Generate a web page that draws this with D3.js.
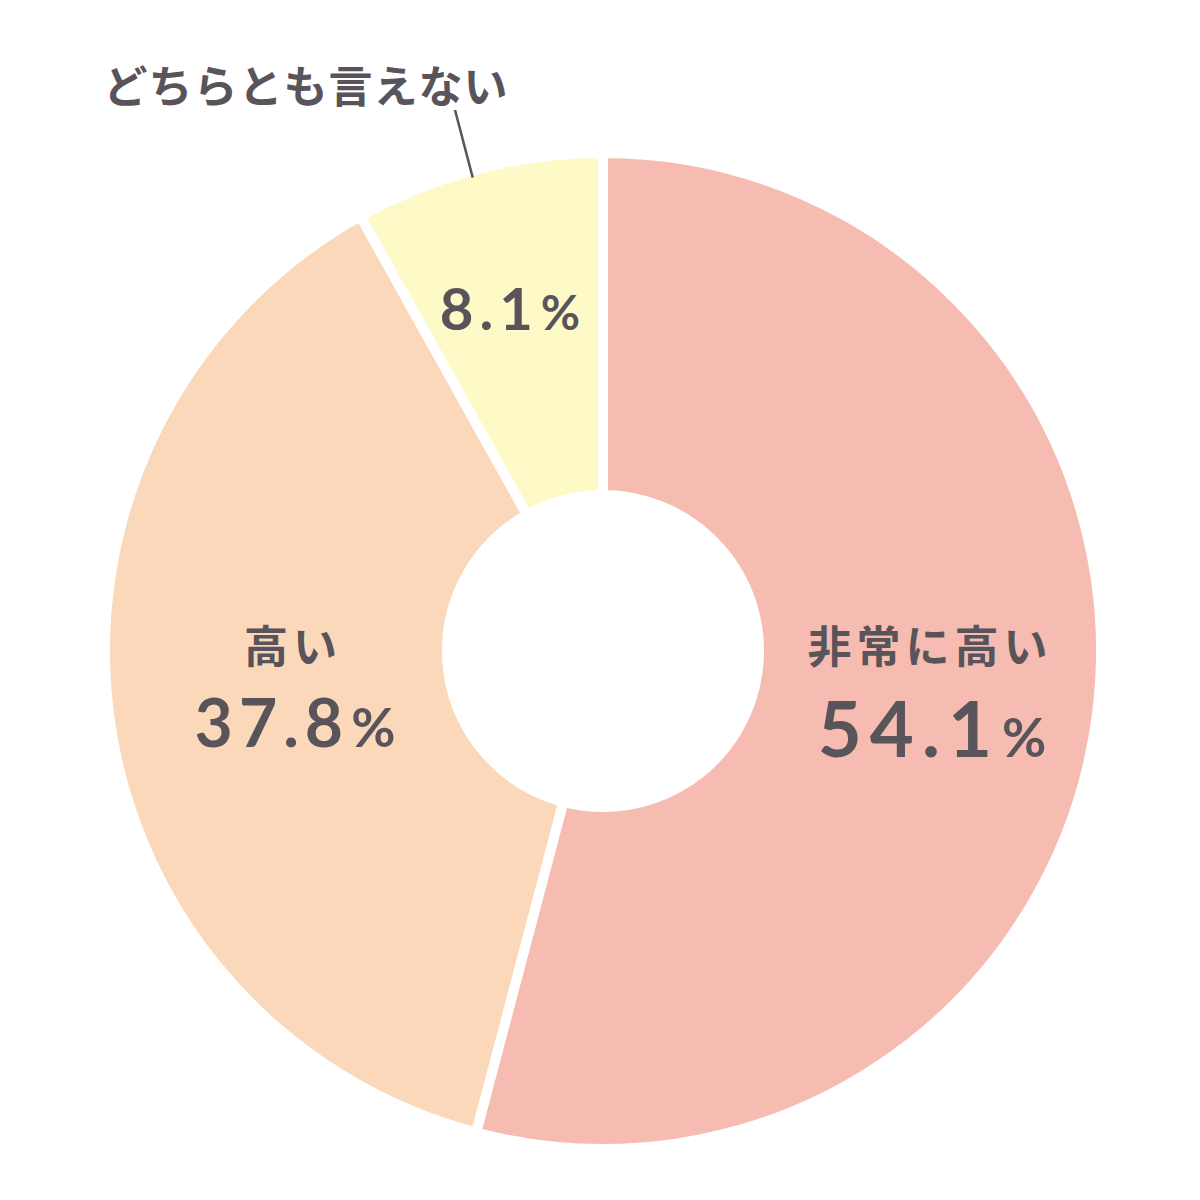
<!DOCTYPE html>
<html>
<head>
<meta charset="utf-8">
<script src="https://cdn.jsdelivr.net/npm/d3@7"></script>
<style>
  body { margin: 0; background: #fff; }
  text { font-family: "Noto Sans CJK JP", "Noto Sans", sans-serif; font-weight: 700; fill: #58545a; }
  text.num { font-family: Lato, "Open Sans", sans-serif; font-weight: 700; }
</style>
</head>
<body>
<div id="chart"></div>
<script>
var labels = ["非常に高い", "高い", "どちらとも言えない"];
var values = [54.1, 37.8, 8.1];
var colors = ["#f6bcb1", "#fad8b9", "#fefac7"];

var width = 1200, height = 1200;
var cx = 603, cy = 651;

var svg = d3.select("#chart").append("svg")
  .attr("width", width)
  .attr("height", height);

var g = svg.append("g").attr("transform", "translate(" + cx + "," + cy + ")");

var pie = d3.pie().sort(null).value(function(d){ return d; });
var arcs = pie(values);

var arc = d3.arc().innerRadius(156).outerRadius(498);

g.selectAll(".slice")
  .data(arcs)
  .enter().append("path")
  .attr("class", "slice")
  .attr("d", arc)
  .style("fill", function(d, i){ return colors[i]; })
  .style("stroke", "#fff")
  .style("stroke-width", 10);

// label spots, picked by eye
var namePos = [[327, 12], [-310, 12]];
var valPos = [[333, 106], [-305, 96], [-90, -321]];
var valSize = [[76, 54], [66, 54], [58, 48]];

function pctText(sel, v, big, small) {
  sel.append("tspan").text(v.toFixed(1)).style("font-size", big + "px");
  sel.append("tspan").text("%").style("font-size", small + "px").attr("dx", 2);
}

[0, 1].forEach(function(i){
  g.append("text").attr("x", namePos[i][0]).attr("y", namePos[i][1])
    .attr("text-anchor", "middle").style("font-size", "44px").style("letter-spacing", "5px")
    .text(labels[i]);
});

values.forEach(function(v, i){
  var t = g.append("text").attr("class", "num")
    .attr("x", valPos[i][0]).attr("y", valPos[i][1])
    .attr("text-anchor", "middle").style("letter-spacing", (i == 0 ? 8 : 6) + "px");
  pctText(t, v, valSize[i][0], valSize[i][1]);
});

// outside label for the small slice
var a2 = (arcs[2].startAngle + arcs[2].endAngle) / 2 - 0.014;
g.append("line")
  .attr("x1", Math.sin(a2) * 491).attr("y1", -Math.cos(a2) * 491)
  .attr("x2", -148).attr("y2", -541)
  .style("stroke", "#58545a").style("stroke-width", 2.5);

g.append("text").attr("x", -297).attr("y", -548)
  .attr("text-anchor", "middle").style("font-size", "44px").style("letter-spacing", "1px")
  .text(labels[2]);
</script>
</body>
</html>
